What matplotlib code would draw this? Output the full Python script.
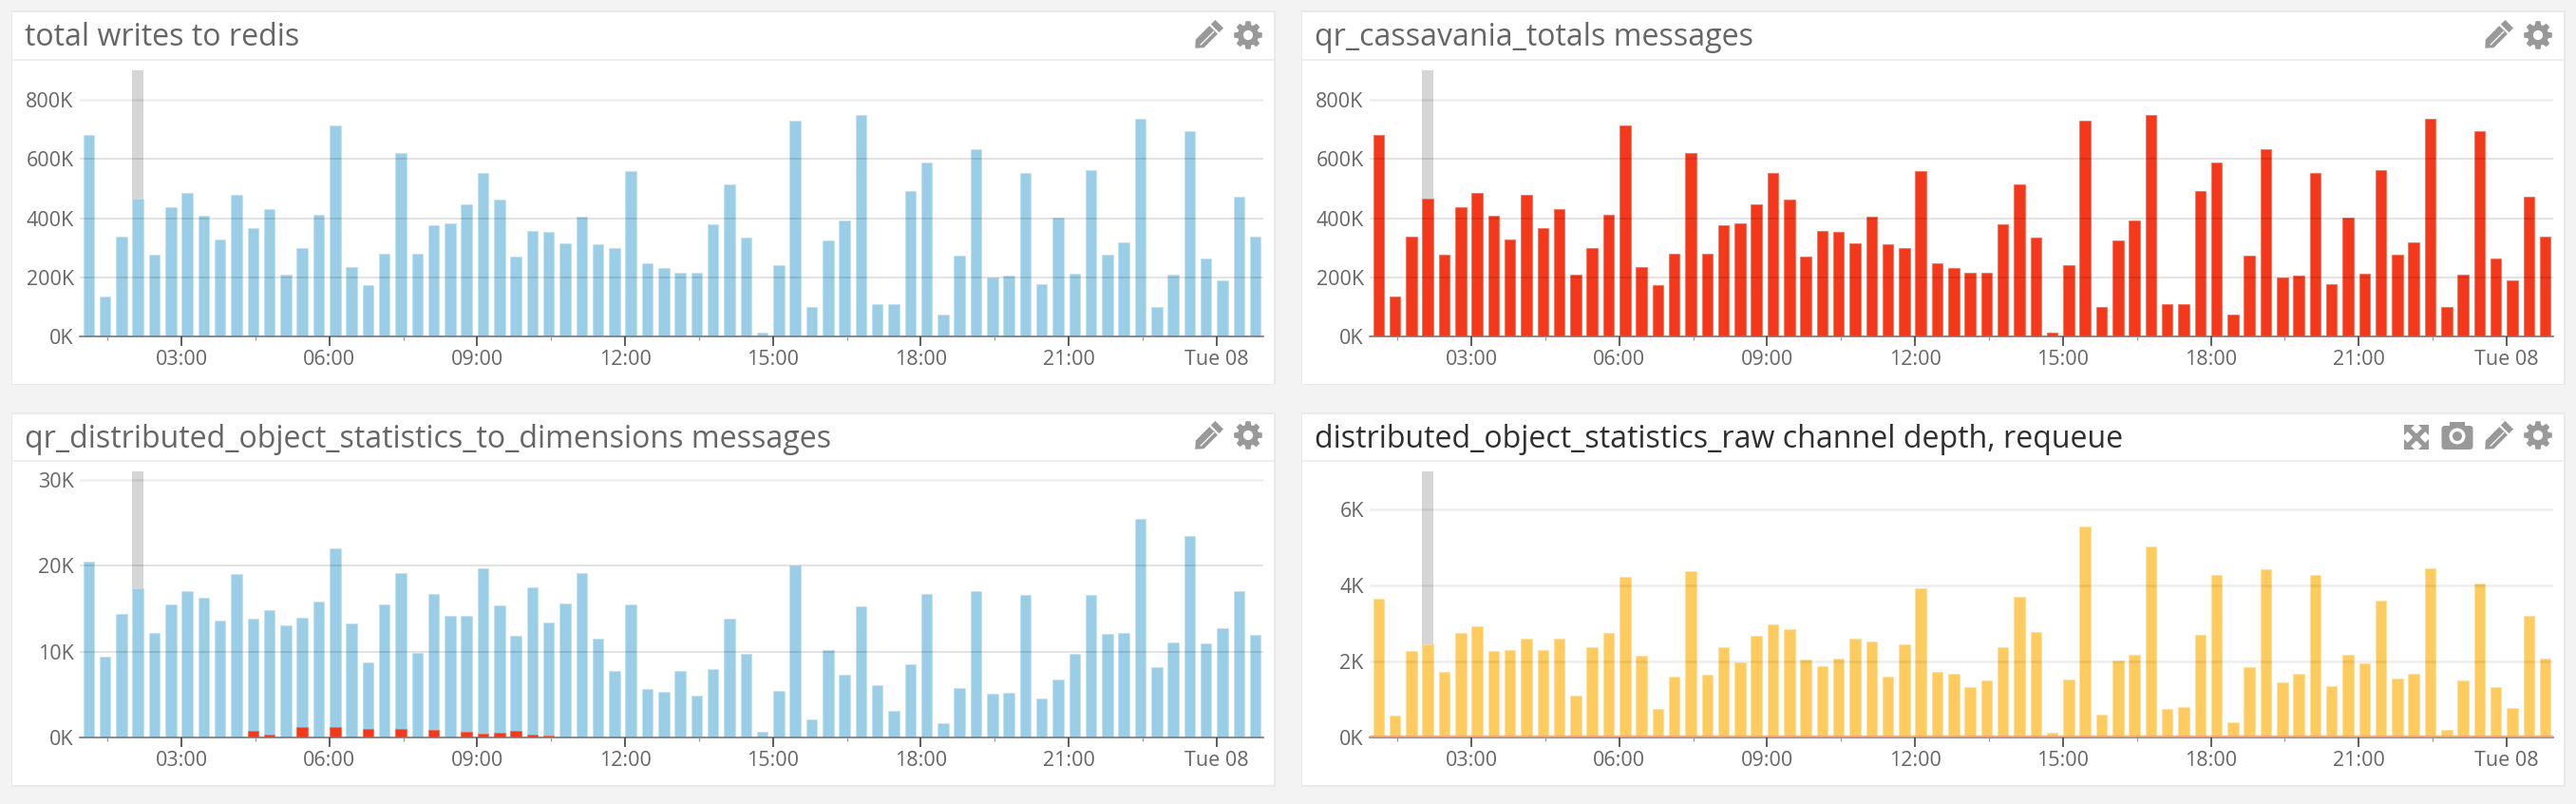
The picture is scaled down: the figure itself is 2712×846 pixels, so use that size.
import numpy as np
import matplotlib
matplotlib.use("Agg")
import matplotlib.pyplot as plt
from matplotlib.patches import Rectangle, Polygon, Circle, FancyBboxPatch
from matplotlib.transforms import Affine2D

# ---------- data (K units) ----------
bar_hours_start = 1.118
writes = [680,136,336,465,275,436,484,407,328,478,366,431,209,300,413,715,236,172,281,619,280,376,384,446,552,462,271,358,353,315,404,311,300,558,247,231,215,215,380,515,334,13,242,731,99,325,392,748,109,110,492,587,74,273,632,200,206,553,178,401,212,562,276,317,735,100,209,694,262,190,473,336]
dims = [20.5,9.4,14.4,17.4,12.2,15.5,17.0,16.3,13.6,19.0,13.8,14.8,13.1,14.0,15.8,22.0,13.3,8.7,15.5,19.2,9.9,16.7,14.2,14.2,19.7,15.4,11.8,17.5,13.4,15.6,19.2,11.5,7.8,15.5,5.7,5.3,7.7,4.9,8.0,13.8,9.7,0.7,5.4,20.0,2.1,10.2,7.3,15.3,6.1,3.1,8.5,16.7,1.7,5.8,17.0,5.1,5.2,16.6,4.5,6.8,9.7,16.6,12.1,12.2,25.5,8.2,11.1,23.5,11.0,12.7,17.0,12.0]
dims_red_index = [10,11,13,15,16,17,19,21,23,24,25,26,27,28]
dims_red = [0.74,0.3,1.2,1.2,0.1,1.0,1.0,0.85,0.63,0.48,0.55,0.77,0.3,0.2]
depth = [3.64,0.575,2.275,2.46,1.725,2.76,2.925,2.275,2.29,2.59,2.3,2.59,1.11,2.375,2.74,4.225,2.14,0.75,1.59,4.37,1.65,2.37,1.98,2.67,2.97,2.85,2.04,1.875,2.075,2.59,2.525,1.59,2.46,3.92,1.72,1.68,1.32,1.49,2.37,3.69,2.775,0.13,1.525,5.56,0.59,2.03,2.175,5.02,0.74,0.81,2.71,4.28,0.4,1.84,4.42,1.45,1.68,4.275,1.34,2.175,1.95,3.61,1.56,1.67,4.45,0.2,1.5,4.04,1.325,0.78,3.19,2.07]
titles = ["total writes to redis", "qr_cassavania_totals messages",
          "qr_distributed_object_statistics_to_dimensions messages",
          "distributed_object_statistics_raw channel depth, requeue"]
major_hours = [3, 6, 9, 12, 15, 18, 21, 24]
major_labels = ["03:00", "06:00", "09:00", "12:00", "15:00", "18:00", "21:00", "Tue 08"]
minor_hours = [1.5, 4.5, 7.5, 10.5, 13.5, 16.5, 19.5, 22.5]

W, H = 2712, 846
plt.rcParams['font.family'] = ['Open Sans', 'DejaVu Sans']
fig = plt.figure(figsize=(W/100, H/100), dpi=100, facecolor='#f3f3f3')
BLUE, RED, YEL = '#9acde6', '#f3381c', '#fecb5e'
EDGE = {BLUE: '#c4e2f1', RED: '#f8705a', YEL: '#ffe09e'}
TXT = '#666666'
ICON = '#999999'
px = Affine2D().scale(fig.bbox.width/W, fig.bbox.height/H)


def px_axes(l, t, r, b):
    return fig.add_axes([l/W, 1-b/H, (r-l)/W, (b-t)/H])


def gear(cx, cy, R=15):
    ang = np.linspace(0, 2*np.pi, 8, endpoint=False)
    pts = []
    for a in ang:
        for da, rr in [(-0.30, .74), (-0.17, 1.0), (0.17, 1.0), (0.30, .74)]:
            pts.append((cx + R*rr*np.cos(a+da), H-(cy + R*rr*np.sin(a+da))))
    fig.add_artist(Polygon(pts, closed=True, fc=ICON, ec='none', transform=px))
    fig.add_artist(Circle((cx, H-cy), R*.34, fc='white', ec='none', transform=px))


def pencil(cx, cy, s=18):
    d = np.array([1, 1])/np.sqrt(2)
    n = np.array([1, -1])/np.sqrt(2)
    c = np.array([cx, H-cy])
    w = s*.34
    body = [c-d*s*1.0, c-d*s*.62+n*w, c+d*s*.52+n*w, c+d*s*.52-n*w, c-d*s*.62-n*w]
    fig.add_artist(Polygon(body, closed=True, fc=ICON, ec='none', transform=px))
    cap = [c+d*s*.64+n*w, c+d*s*1.0+n*w, c+d*s*1.0-n*w, c+d*s*.64-n*w]
    fig.add_artist(Polygon(cap, closed=True, fc=ICON, ec='none', transform=px))
    p0, p1 = c-d*s*.62+n*w*.25, c+d*s*.45+n*w*.25
    fig.add_artist(plt.Line2D([p0[0], p1[0]], [p0[1], p1[1]], color='white', lw=0.9, transform=px))


def expand(cx, cy, s=13):
    for sx in (-1, 1):
        for sy in (-1, 1):
            tip = (cx+sx*s, H-(cy+sy*s))
            fig.add_artist(Polygon([tip, (cx+sx*(s-11), H-(cy+sy*s)), (cx+sx*s, H-(cy+sy*(s-11)))],
                                   closed=True, fc=ICON, ec='none', transform=px))
            fig.add_artist(plt.Line2D([cx-sx*1, cx+sx*(s-3)], [H-(cy-sy*1), H-(cy+sy*(s-3))],
                                      color=ICON, lw=3.6, transform=px))


def camera(cx, cy):
    fig.add_artist(FancyBboxPatch((cx-16.5, H-cy-15), 33, 25, boxstyle='round,pad=0,rounding_size=3.5',
                                  fc=ICON, ec='none', transform=px))
    fig.add_artist(Rectangle((cx-8, H-cy+9), 16, 5, fc=ICON, ec='none', transform=px))
    fig.add_artist(Circle((cx, H-cy-1), 8.5, fc='white', ec='none', transform=px))
    fig.add_artist(Circle((cx, H-cy-1), 5, fc=ICON, ec='none', transform=px))


def panel(left, top, bottom, hline, ax_top, y0, yticks, ymax_val, series, title, title_color, soft_grid=False):
    fig.add_artist(Rectangle((left-1.5, H-bottom-1.5), 1331, bottom-top+3, fc='#e9e9e9', ec='none', transform=px, zorder=0))
    fig.add_artist(Rectangle((left, H-bottom), 1328, bottom-top, fc='white', ec='none', transform=px, zorder=0))
    fig.add_artist(Rectangle((left, H-hline-1), 1328, 2.4, fc='#eeeeee', ec='none', transform=px, zorder=0))
    fig.text((left+13)/W, 1-(top+(hline-top)/2+1.5)/H, title, fontsize=23.1, color=title_color, va='center', ha='left')

    axl, axr = left+71, left+1317
    hour_px = 51.9
    ax = px_axes(axl, ax_top, axr, y0)
    ax.patch.set_alpha(0)
    ax.set_xlim(3-(191-84)/hour_px, 3+(1330-191)/hour_px)
    ax.set_ylim(0, ymax_val)
    for s in ('top', 'right', 'left'):
        ax.spines[s].set_visible(False)
    ax.spines['bottom'].set_color('#777777')
    ax.spines['bottom'].set_linewidth(1.2)

    x = bar_hours_start + np.arange(72)/3
    ax.bar(x[3], ymax_val, width=0.232, color='#d6d6d6', lw=0, zorder=1)
    for vals, idx, col in series:
        xs = x if idx is None else x[idx]
        ax.bar(xs, vals, width=0.222, color=col, edgecolor=EDGE[col], lw=0.6, zorder=2)
    ax.set_yticks(yticks)
    ax.set_yticklabels([f"{int(v)}K" for v in yticks], fontsize=15.5, color=TXT)
    ax.yaxis.grid(True, color='#000000', alpha=0.13, lw=1.2, zorder=3)
    ax.set_axisbelow(False)
    ax.tick_params(axis='y', length=0, pad=4.5)
    ax.set_xticks(major_hours)
    ax.set_xticklabels(major_labels, fontsize=15.5, color=TXT)
    ax.set_xticks(minor_hours, minor=True)
    ax.tick_params(axis='x', which='major', length=7, width=1.1, color='#333333', pad=3)
    ax.tick_params(axis='x', which='minor', length=2.6, width=0.9, color='#999999', pad=3)
    lines = ax.get_ygridlines()
    for i, line in enumerate(lines):
        if i == 0:
            line.set_visible(False)
        elif soft_grid or i == len(lines)-1:
            line.set_alpha(0.07)
            line.set_linewidth(1.8)
    return ax


L1, L2 = 13, 1371
T1, B1, HL1 = 13, 404, 63
T2, B2, HL2 = 436, 826, 485
panel(L1, T1, B1, HL1, 74, 354, [0, 200, 400, 600, 800], 900, [(writes, None, BLUE)], titles[0], '#666666')
panel(L2, T1, B1, HL1, 74, 354, [0, 200, 400, 600, 800], 900, [(writes, None, RED)], titles[1], '#666666')
panel(L1, T2, B2, HL2, 496, 776, [0, 10, 20, 30], 31,
      [(dims, None, BLUE), (dims_red, np.array(dims_red_index), RED)], titles[2], '#666666')
ax4 = panel(L2, T2, B2, HL2, 496, 776, [0, 2, 4, 6], 7, [(depth, None, YEL)], titles[3], '#2f2f2f', soft_grid=True)
ax4.axhline(0.03, color='#f8a06a', lw=2.0, zorder=4)

for L in (L1, L2):
    gear(L + 1301, T1 + 24)
    pencil(L + 1258, T1 + 25)
gear(L1 + 1301, T2 + 22)
pencil(L1 + 1258, T2 + 24)
gear(L2 + 1301, T2 + 22)
pencil(L2 + 1258, T2 + 24)
camera(L2 + 1216, T2 + 22)
expand(L2 + 1173, T2 + 24)

fig.savefig('out.png', dpi=100, facecolor=fig.get_facecolor())
